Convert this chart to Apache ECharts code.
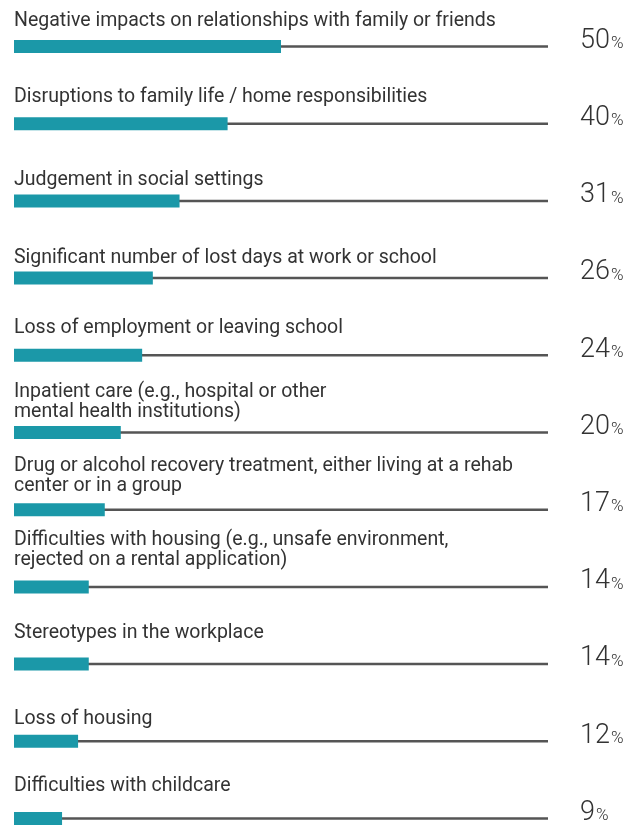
<!DOCTYPE html>
<html>
<head>
<meta charset="utf-8">
<script src="https://cdn.jsdelivr.net/npm/echarts@6/dist/echarts.min.js"></script>
<style>
  html, body { margin: 0; padding: 0; background: #fff; }
  #chart { width: 644px; height: 829px; }
</style>
</head>
<body>
<div id="chart"></div>
<script>
// Consequences reported, share of respondents (%)
const categories = [
  'Negative impacts on relationships with family or friends',
  'Disruptions to family life / home responsibilities',
  'Judgement in social settings',
  'Significant number of lost days at work or school',
  'Loss of employment or leaving school',
  'Inpatient care (e.g., hospital or other\nmental health institutions)',
  'Drug or alcohol recovery treatment, either living at a rehab\ncenter or in a group',
  'Difficulties with housing (e.g., unsafe environment,\nrejected on a rental application)',
  'Stereotypes in the workplace',
  'Loss of housing',
  'Difficulties with childcare'
];
const values = [50, 40, 31, 26, 24, 20, 17, 14, 14, 12, 9];
const scaleMax = 100;

// how far (px) each caption's last baseline sits above its bar's centre
const labelRise = [20, 21, 15, 14, 21, 15, 18, 21, 25, 16, 27];

const textColor = '#333333';
const font = 'Roboto';
const captionSize = 19.5;
const captionLine = 20;
// distance from bottom of the caption's line box down to its baseline
const baselineInBox = captionLine / 2 - captionSize * 0.3;

const captionItems = categories.map((name, i) => ({
  value: name,
  textStyle: {
    align: 'left',
    verticalAlign: 'bottom',
    padding: [0, 0, Math.max(0, labelRise[i] - baselineInBox), 0]
  }
}));

const chart = echarts.init(document.getElementById('chart'));
chart.setOption({
  animation: false,
  grid: { left: 14, right: 96, top: 46.5, bottom: 10.5, outerBoundsMode: 'none', containLabel: false },
  xAxis: { type: 'value', min: 0, max: scaleMax, show: false },
  yAxis: [
    {
      type: 'category',
      data: captionItems,
      inverse: true,
      boundaryGap: false,
      axisLine: { show: false },
      axisTick: { show: false },
      splitLine: { show: false },
      axisLabel: {
        inside: true,
        margin: 0,
        interval: 0,
        align: 'left',
        verticalAlign: 'bottom',
        fontFamily: font,
        fontSize: captionSize,
        lineHeight: captionLine,
        color: textColor
      }
    },
    {
      type: 'category',
      data: categories,
      inverse: true,
      boundaryGap: false,
      show: false
    }
  ],
  series: [
    {
      // full-width track behind each bar
      type: 'bar',
      yAxisIndex: 1,
      data: categories.map(() => scaleMax),
      barWidth: 2.5,
      clip: false,
      silent: true,
      z: 1,
      itemStyle: { color: '#555555' },
      label: {
        show: true,
        position: 'right',
        distance: 32,
        offset: [0, -5.5],
        formatter: (p) => '{n|' + values[p.dataIndex] + '}{p|%}',
        rich: {
          n: { fontFamily: font, fontSize: 27, fontWeight: 300, color: textColor, lineHeight: 27, verticalAlign: 'bottom' },
          p: { fontFamily: font, fontSize: 17, fontWeight: 300, color: textColor, lineHeight: 17, verticalAlign: 'bottom', padding: [0, 0, 2, 1] }
        }
      }
    },
    {
      type: 'bar',
      yAxisIndex: 0,
      data: values,
      barWidth: 13,
      clip: false,
      silent: true,
      z: 2,
      itemStyle: { color: '#1b98a8' }
    }
  ]
});
</script>
</body>
</html>
